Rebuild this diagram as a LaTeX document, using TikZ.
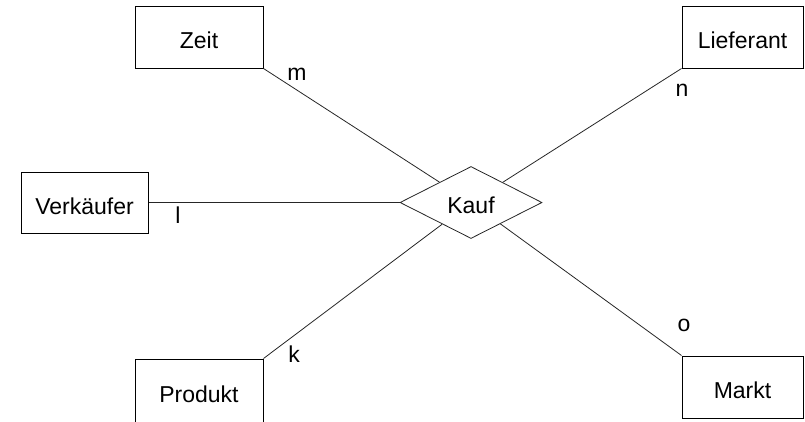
\documentclass[tikz,border=0pt]{standalone}
\usepackage{fontspec}
\setmainfont{Liberation Sans}
\usetikzlibrary{shapes.geometric}
\begin{document}
\begin{tikzpicture}[x=1pt,y=-1pt,
  font=\fontsize{23}{27}\selectfont,
  entity/.style={draw=black, line width=1pt, rectangle, inner sep=0pt, text height=23pt, text depth=0pt},
  rel/.style={draw=black!85, line width=0.8pt, diamond, inner sep=0pt, minimum width=142pt, minimum height=72pt, text height=21pt, text depth=0pt},
  conn/.style={draw=black!85, line width=0.8pt},
  card/.style={anchor=base, inner sep=0pt}]
\useasboundingbox (0,0) rectangle (805,421);
\node[entity, minimum width=128pt, minimum height=62pt] (zeit) at (199,37) {Zeit};
\node[entity, minimum width=121pt, minimum height=62pt] (lief) at (742.5,37) {Lieferant};
\node[entity, minimum width=127pt, minimum height=61pt] (verk) at (84.5,202.5) {Verkäufer};
\node[entity, minimum width=128pt, minimum height=64pt] (prod) at (199,391) {Produkt};
\node[entity, minimum width=121pt, minimum height=62pt] (markt) at (742.5,387) {Markt};
\node[rel] (kauf) at (471,202.5) {Kauf};
\draw[conn] (zeit.south east) -- (kauf);
\draw[conn] (lief.south west) -- (kauf);
\draw[conn] (verk.east) -- (kauf.west);
\draw[conn] (prod.north east) -- (kauf);
\draw[conn] (markt.north west) -- (kauf);
\node[card] (cm) at (297,80) {m};
\node[card] (cn) at (682,96) {n};
\node[card] (cl) at (178,223) {l};
\node[card] (ck) at (294,362) {k};
\node[card] (co) at (684,331) {o};
\end{tikzpicture}
\end{document}
